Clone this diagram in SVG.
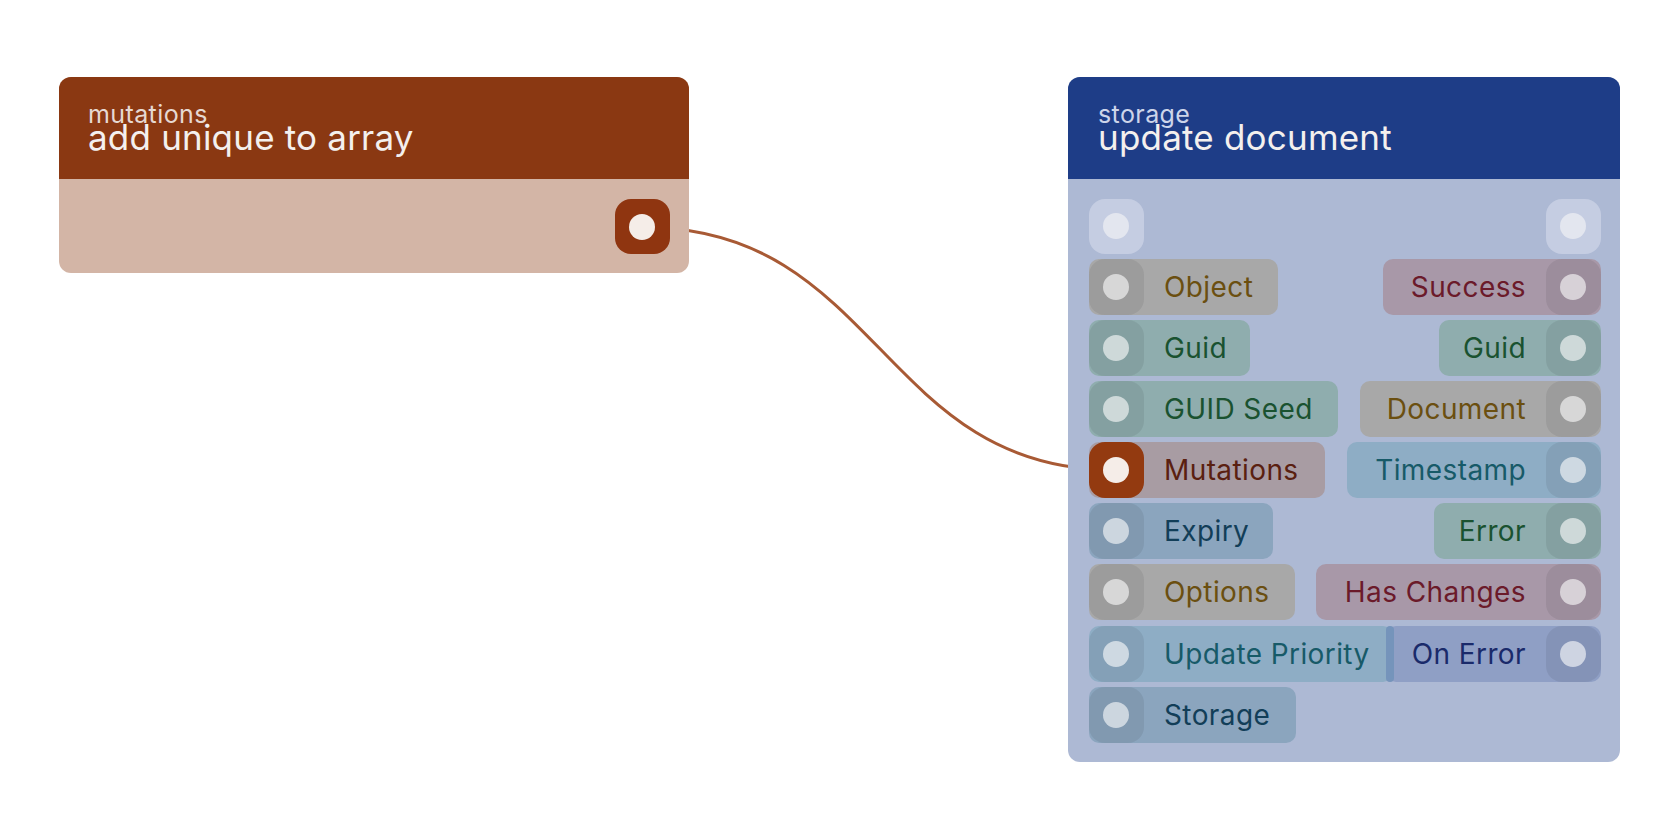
<svg xmlns="http://www.w3.org/2000/svg" width="1680" height="840" viewBox="0 0 1680 840">
<style>
text{font-family:Inter,"Noto Sans","Liberation Sans",sans-serif}
.sub{font-size:25px;letter-spacing:0.4px;fill:#e6d9d2}
.ttl{font-size:35px;letter-spacing:0.2px;fill:#f4f0ee}
.lb{font-size:28px;letter-spacing:0.4px}
.dot{fill:#fff;fill-opacity:.6}
.pd{fill:#000;fill-opacity:.07}
</style>
<rect width="1680" height="840" fill="#fff"/>
<g id="connectors">
<path d="M642 227 C880 227 880 470 1115 470" fill="none" stroke="#a85a35" stroke-width="3"/>
</g>
<g id="node-add-unique">
<rect x="59" y="77" width="630" height="196" rx="12" fill="#d3b5a6"/>
<path d="M59 179 V89 a12 12 0 0 1 12 -12 H677 a12 12 0 0 1 12 12 V179 Z" fill="#8a3812"/>
<text x="88" y="123" class="sub">mutations</text>
<text x="88" y="150" class="ttl">add unique to array</text>
<rect x="615" y="199" width="55" height="55" rx="16" fill="#8f3510"/>
<circle cx="642" cy="227" r="13" fill="#f5ede8"/>
</g>
<g id="node-update-document">
<rect x="1068" y="77" width="552" height="685" rx="12" fill="#adb9d4"/>
<path d="M1068 179 V89 a12 12 0 0 1 12 -12 H1608 a12 12 0 0 1 12 12 V179 Z" fill="#1e3d87"/>
<text x="1098" y="123" class="sub" style="fill:#cdd5ea">storage</text>
<text x="1098" y="150" class="ttl">update document</text>
<rect x="1089" y="199" width="55" height="55" rx="16" fill="#c5cde2"/><circle cx="1116" cy="226" r="13" fill="#e3e6ef"/>
<rect x="1546" y="199" width="55" height="55" rx="16" fill="#c5cde2"/><circle cx="1573" cy="226" r="13" fill="#e3e6ef"/>
<g>
<rect x="1089" y="259" width="189" height="56" rx="10" fill="#a8a8a8"/><rect x="1089" y="259" width="55" height="56" rx="16" class="pd"/><circle cx="1116" cy="287" r="13" class="dot"/>
<text x="1164" y="297" class="lb" fill="#6b4f10">Object</text>
<rect x="1089" y="320" width="161" height="56" rx="10" fill="#8fadae"/><rect x="1089" y="320" width="55" height="56" rx="16" class="pd"/><circle cx="1116" cy="348" r="13" class="dot"/>
<text x="1164" y="358" class="lb" fill="#1a5230">Guid</text>
<rect x="1089" y="381" width="249" height="56" rx="10" fill="#8fadae"/><rect x="1089" y="381" width="55" height="56" rx="16" class="pd"/><circle cx="1116" cy="409" r="13" class="dot"/>
<text x="1164" y="419" class="lb" fill="#1a5230">GUID Seed</text>
<rect x="1089" y="442" width="236" height="56" rx="10" fill="#a89ca3"/><rect x="1089" y="442" width="55" height="56" rx="16" fill="#933a10"/><circle cx="1116" cy="470" r="13" fill="#f5ede8"/>
<text x="1164" y="480" class="lb" fill="#5a2010">Mutations</text>
<rect x="1089" y="503" width="184" height="56" rx="10" fill="#8ba5be"/><rect x="1089" y="503" width="55" height="56" rx="16" class="pd"/><circle cx="1116" cy="531" r="13" class="dot"/>
<text x="1164" y="541" class="lb" fill="#123e58">Expiry</text>
<rect x="1089" y="564" width="206" height="56" rx="10" fill="#a8a8a8"/><rect x="1089" y="564" width="55" height="56" rx="16" class="pd"/><circle cx="1116" cy="592" r="13" class="dot"/>
<text x="1164" y="602" class="lb" fill="#6b4f10">Options</text>
<rect x="1089" y="626" width="304" height="56" rx="10" fill="#8eadc5"/><rect x="1089" y="626" width="55" height="56" rx="16" class="pd"/><circle cx="1116" cy="654" r="13" class="dot"/>
<text x="1164" y="664" class="lb" fill="#175a68">Update Priority</text>
<rect x="1089" y="687" width="207" height="56" rx="10" fill="#8ba5be"/><rect x="1089" y="687" width="55" height="56" rx="16" class="pd"/><circle cx="1116" cy="715" r="13" class="dot"/>
<text x="1164" y="725" class="lb" fill="#123e58">Storage</text>
</g>
<g text-anchor="end">
<rect x="1383" y="259" width="218" height="56" rx="10" fill="#a898a8"/><rect x="1546" y="259" width="55" height="56" rx="16" class="pd"/><circle cx="1573" cy="287" r="13" class="dot"/>
<text x="1526" y="297" class="lb" fill="#6b1a2a">Success</text>
<rect x="1439" y="320" width="162" height="56" rx="10" fill="#8fadae"/><rect x="1546" y="320" width="55" height="56" rx="16" class="pd"/><circle cx="1573" cy="348" r="13" class="dot"/>
<text x="1526" y="358" class="lb" fill="#1a5230">Guid</text>
<rect x="1360" y="381" width="241" height="56" rx="10" fill="#a8a8a8"/><rect x="1546" y="381" width="55" height="56" rx="16" class="pd"/><circle cx="1573" cy="409" r="13" class="dot"/>
<text x="1526" y="419" class="lb" fill="#6b4f10">Document</text>
<rect x="1347" y="442" width="254" height="56" rx="10" fill="#8eadc5"/><rect x="1546" y="442" width="55" height="56" rx="16" class="pd"/><circle cx="1573" cy="470" r="13" class="dot"/>
<text x="1526" y="480" class="lb" fill="#175a68">Timestamp</text>
<rect x="1434" y="503" width="167" height="56" rx="10" fill="#8fadae"/><rect x="1546" y="503" width="55" height="56" rx="16" class="pd"/><circle cx="1573" cy="531" r="13" class="dot"/>
<text x="1526" y="541" class="lb" fill="#1a5230">Error</text>
<rect x="1316" y="564" width="285" height="56" rx="10" fill="#a898a8"/><rect x="1546" y="564" width="55" height="56" rx="16" class="pd"/><circle cx="1573" cy="592" r="13" class="dot"/>
<text x="1526" y="602" class="lb" fill="#6b1a2a">Has Changes</text>
<rect x="1386" y="626" width="215" height="56" rx="10" fill="#8f9fc5"/><rect x="1386" y="626" width="8" height="56" rx="4" fill="#7594bb"/><rect x="1546" y="626" width="55" height="56" rx="16" class="pd"/><circle cx="1573" cy="654" r="13" class="dot"/>
<text x="1526" y="664" class="lb" fill="#1a2a6a">On Error</text>
</g>
</g>
</svg>
